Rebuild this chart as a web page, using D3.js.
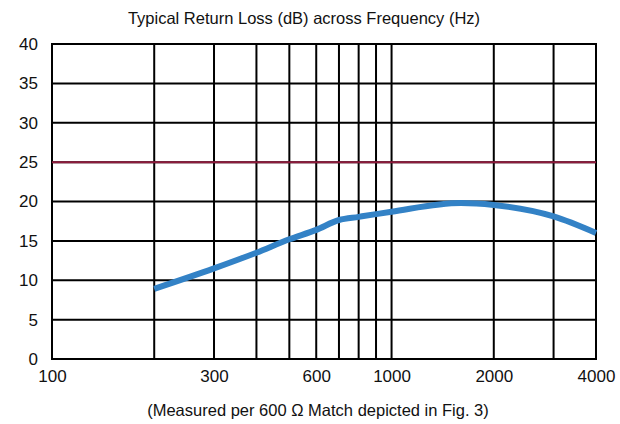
<!DOCTYPE html>
<html><head><meta charset="utf-8">
<script src="https://cdn.jsdelivr.net/npm/d3@7"></script>
<style>body{margin:0;background:#fff}svg{display:block}text{font-family:"Liberation Sans",Arial,sans-serif;fill:#111}</style>
</head><body>
<script>
const freqs = [200, 300, 400, 500, 600, 700, 800, 900, 1000, 1600, 2000, 3000, 4000];
const returnLoss = [8.9, 11.5, 13.5, 15.2, 16.4, 17.65, 18.05, 18.4, 18.7, 19.8, 19.55, 18.1, 16.0];
const limitLevel = 25;
const gridFreqs = [100, 200, 300, 400, 500, 600, 700, 800, 900, 1000, 2000, 3000, 4000];
const xTickLabels = [100, 300, 600, 1000, 2000, 4000];
const yTicks = [0, 5, 10, 15, 20, 25, 30, 35, 40];
const title = "Typical Return Loss (dB) across Frequency (Hz)";
const subtitle = "(Measured per 600 \u03A9 Match depicted in Fig. 3)";

const W = 620, H = 424;
const m = {l: 52, r: 24, t: 44, b: 65};
const svg = d3.select("body").append("svg").attr("width", W).attr("height", H);
const x = d3.scaleLog().domain([100, 4000]).range([m.l, W - m.r]);
const y = d3.scaleLinear().domain([0, 40]).range([H - m.b, m.t]);

const g = svg.append("g");
g.selectAll(".hg").data(yTicks).enter().append("line")
  .attr("x1", x(100)).attr("x2", x(4000))
  .attr("y1", d => y(d)).attr("y2", d => y(d))
  .attr("stroke", "#000").attr("stroke-width", 2);
g.selectAll(".vg").data(gridFreqs).enter().append("line")
  .attr("x1", d => x(d)).attr("x2", d => x(d))
  .attr("y1", y(40) - 1).attr("y2", y(0) + 1)
  .attr("stroke", "#000").attr("stroke-width", 2);

const yAxis = d3.axisLeft(y).tickValues(yTicks).tickSize(0).tickPadding(14);
const ya = svg.append("g").attr("transform", `translate(${m.l},0)`).call(yAxis);
ya.select(".domain").remove();
ya.selectAll("text").attr("font-size", 17).style("font-family", '"Liberation Sans",Arial,sans-serif').attr("fill", "#111");

const xAxis = d3.axisBottom(x).tickValues(xTickLabels).tickFormat(d3.format("d")).tickSize(0).tickPadding(11);
const xa = svg.append("g").attr("transform", `translate(0,${y(0)})`).call(xAxis);
xa.select(".domain").remove();
xa.selectAll("text").attr("font-size", 17).style("font-family", '"Liberation Sans",Arial,sans-serif').attr("fill", "#111");

svg.append("line").attr("x1", x(100)).attr("x2", x(4000))
  .attr("y1", y(limitLevel)).attr("y2", y(limitLevel))
  .attr("stroke", "#8e1b3c").attr("stroke-width", 2);

const data = freqs.map((f, i) => [f, returnLoss[i]]);
svg.append("path").datum(data)
  .attr("d", d3.line().x(d => x(d[0])).y(d => y(d[1])).curve(d3.curveMonotoneX))
  .attr("fill", "none").attr("stroke", "#3382c6").attr("stroke-width", 6);

svg.append("text").attr("x", 304).attr("y", 24).attr("text-anchor", "middle")
  .attr("font-size", 16.5).text(title);
svg.append("text").attr("x", 318).attr("y", 416).attr("text-anchor", "middle")
  .attr("font-size", 16.5).text(subtitle);
</script>
</body></html>
